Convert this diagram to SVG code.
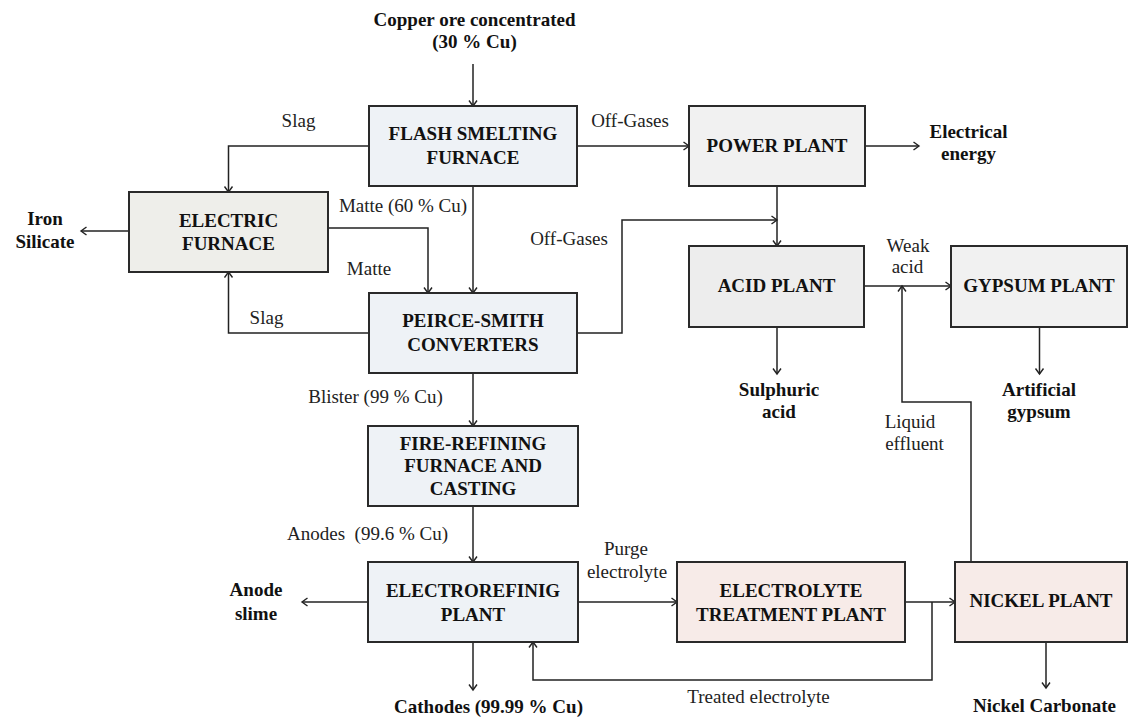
<svg xmlns="http://www.w3.org/2000/svg" width="1129" height="720" viewBox="0 0 1129 720">
<defs>
<marker id="arr" markerUnits="userSpaceOnUse" markerWidth="12" markerHeight="12" refX="6.5" refY="5" orient="auto">
<path d="M1,1 L6.5,5 L1,9" fill="none" stroke="#222" stroke-width="1.4"/>
</marker>
<style>
.box{stroke:#2a2a2a;stroke-width:2}
.blue{fill:#eef2f6}
.grn{fill:#eeeeea}
.gry{fill:#f1f1f1}
.pink{fill:#f7ebe8}
.bt{font-weight:bold;font-size:19px;fill:#111;text-anchor:middle}
.lt{font-size:19px;fill:#222;text-anchor:middle;white-space:pre}
.c{fill:none;stroke:#222;stroke-width:1.5;marker-end:url(#arr)}
</style>
</defs>
<rect width="1129" height="720" fill="#ffffff"/>

<g id="connectors">
<path class="c" d="M473,64 V106"/>
<path class="c" d="M369,146 H228.5 V192"/>
<path class="c" d="M577,146 H689"/>
<path class="c" d="M865,146 H919"/>
<path class="c" d="M129,231 H81"/>
<path class="c" d="M473,186 V293"/>
<path class="c" d="M328,228 H428 V293"/>
<path class="c" d="M369,333 H228.5 V272"/>
<path class="c" d="M577,333 H622 V220 H777"/>
<path class="c" d="M777,186 V246"/>
<path class="c" d="M777,327 V374"/>
<path class="c" d="M864,286 H951"/>
<path class="c" d="M1039.5,327 V374"/>
<path class="c" d="M473,373 V426"/>
<path class="c" d="M473,506 V562"/>
<path class="c" d="M368,602 H302"/>
<path class="c" d="M473,642 V690"/>
<path class="c" d="M578,602 H677"/>
<path class="c" d="M905,602 H955"/>
<path class="c" d="M932,602 V680 H533 V642"/>
<path class="c" d="M971,562 V402 H902 V286"/>
<path class="c" d="M1046,642 V688"/>
</g>

<g font-family="Liberation Serif, Tinos, DejaVu Serif, serif">
<g id="flash">
<rect class="box blue" x="369" y="106" width="208" height="80"/>
<text class="bt" x="473" y="140">FLASH SMELTING</text>
<text class="bt" x="473" y="164">FURNACE</text>
</g>
<g id="electric">
<rect class="box grn" x="129" y="192" width="199" height="80"/>
<text class="bt" x="228.5" y="227">ELECTRIC</text>
<text class="bt" x="228.5" y="250">FURNACE</text>
</g>
<g id="peirce">
<rect class="box blue" x="369" y="293" width="208" height="80"/>
<text class="bt" x="473" y="327">PEIRCE-SMITH</text>
<text class="bt" x="473" y="351">CONVERTERS</text>
</g>
<g id="fire">
<rect class="box blue" x="368" y="426" width="210" height="80"/>
<text class="bt" x="473" y="450">FIRE-REFINING</text>
<text class="bt" x="473" y="472">FURNACE AND</text>
<text class="bt" x="473" y="495">CASTING</text>
</g>
<g id="electrorefining">
<rect class="box blue" x="368" y="562" width="210" height="80"/>
<text class="bt" x="473" y="597">ELECTROREFINIG</text>
<text class="bt" x="473" y="621">PLANT</text>
</g>
<g id="power">
<rect class="box gry" x="689" y="106" width="176" height="80"/>
<text class="bt" x="777" y="152">POWER PLANT</text>
</g>
<g id="acid">
<rect class="box" fill="#ededed" x="689" y="246" width="175" height="81"/>
<text class="bt" x="776.5" y="292">ACID PLANT</text>
</g>
<g id="gypsum">
<rect class="box gry" x="951" y="246" width="176" height="81"/>
<text class="bt" x="1039" y="292">GYPSUM PLANT</text>
</g>
<g id="etp">
<rect class="box pink" x="677" y="562" width="228" height="80"/>
<text class="bt" x="791" y="597">ELECTROLYTE</text>
<text class="bt" x="791" y="621">TREATMENT PLANT</text>
</g>
<g id="nickel">
<rect class="box pink" x="955" y="562" width="172" height="80"/>
<text class="bt" x="1041" y="607">NICKEL PLANT</text>
</g>

<g id="io-labels">
<text class="bt" x="474.5" y="26">Copper ore concentrated</text>
<text class="bt" x="474.5" y="48">(30 % Cu)</text>
<text class="bt" x="45" y="225">Iron</text>
<text class="bt" x="45" y="248">Silicate</text>
<text class="bt" x="968.5" y="138">Electrical</text>
<text class="bt" x="968.5" y="160">energy</text>
<text class="bt" x="779" y="396">Sulphuric</text>
<text class="bt" x="779" y="418">acid</text>
<text class="bt" x="1039" y="396">Artificial</text>
<text class="bt" x="1039" y="418">gypsum</text>
<text class="bt" x="256" y="596">Anode</text>
<text class="bt" x="256" y="620">slime</text>
<text class="bt" x="488.5" y="713">Cathodes (99.99 % Cu)</text>
<text class="bt" x="1044.5" y="712">Nickel Carbonate</text>
</g>

<g id="flow-labels">
<text class="lt" x="298.5" y="127">Slag</text>
<text class="lt" x="630" y="127">Off-Gases</text>
<text class="lt" x="403" y="212">Matte (60 % Cu)</text>
<text class="lt" x="369" y="275">Matte</text>
<text class="lt" x="266.5" y="324">Slag</text>
<text class="lt" x="569" y="245">Off-Gases</text>
<text class="lt" x="375.5" y="403">Blister (99 % Cu)</text>
<text class="lt" x="367.5" y="540">Anodes  (99.6 % Cu)</text>
<text class="lt" x="626" y="555">Purge</text>
<text class="lt" x="627" y="578">electrolyte</text>
<text class="lt" x="908" y="252">Weak</text>
<text class="lt" x="907.5" y="273">acid</text>
<text class="lt" x="910" y="428">Liquid</text>
<text class="lt" x="914.5" y="450">effluent</text>
<text class="lt" x="758.5" y="703">Treated electrolyte</text>
</g>
</g>
</svg>
